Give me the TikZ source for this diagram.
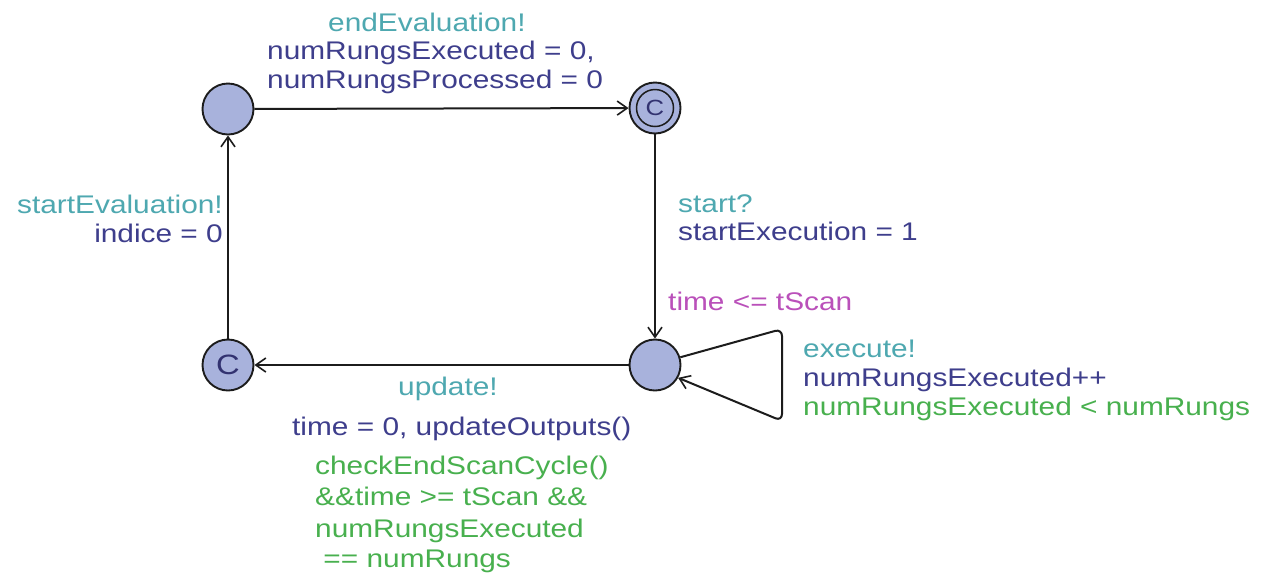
\documentclass[tikz,border=0pt]{standalone}
\usepackage{fontspec}
\setmainfont{Liberation Sans}[FakeStretch=1.17]
\usetikzlibrary{arrows.meta}
\definecolor{syncc}{RGB}{78,168,176}
\definecolor{assignc}{RGB}{62,62,140}
\definecolor{guardc}{RGB}{72,176,78}
\definecolor{invc}{RGB}{186,80,186}
\definecolor{locfill}{RGB}{168,178,220}
\definecolor{edgec}{RGB}{28,28,28}
\tikzset{
  loc/.style={circle, draw=edgec, line width=1.9pt, fill=locfill, minimum size=51pt, inner sep=0pt},
  edge/.style={draw=edgec, line width=2pt, -{Straight Barb[length=10pt,width=14pt,line width=1.6pt]}},
  lbl/.style={inner sep=0pt, anchor=base west, font=\fontsize{25.5}{30}\selectfont},
  lble/.style={lbl, anchor=base east},
  sync/.style={text=syncc},
  assign/.style={text=assignc},
  guard/.style={text=guardc},
  inv/.style={text=invc},
  cletter/.style={inner sep=0pt, text=assignc!80!black}
}
\begin{document}
\begin{tikzpicture}[x=1pt,y=-1pt]
\useasboundingbox[fill=white] (0,0) rectangle (1269,582);
% locations
\node[loc] (A) at (228,109) {};
\node[loc] (B) at (655,108) {};
\draw[edgec, line width=1.5pt] (B.center) circle (18.5pt);
\node[cletter, font=\fontsize{22}{22}\selectfont] (Bc) at (655,108) {C};
\node[loc, font=\fontsize{28}{28}\selectfont, text=assignc!80!black] (C) at (228,365) {C};
\node[loc] (D) at (655,365) {};
% connectors
\draw[edge] (A) -- (B);
\draw[edge] (B) -- (D);
\draw[edge] (D) -- (C);
\draw[edge] (C) -- (A);
\coordinate (L1) at (782,329);
\coordinate (L2) at (782,421);
\draw[edge, rounded corners=7pt] (D.17) -- (L1) -- (L2) -- (D.-29);
% labels top edge
\node[lbl, sync] (t1) at (328,31) {endEvaluation!};
\node[lbl, assign] (t2) at (267,59) {numRungsExecuted = 0,};
\node[lbl, assign] (t3) at (267,88) {numRungsProcessed = 0};
% left edge
\node[lble, sync] (l1) at (223,213) {startEvaluation!};
\node[lble, assign] (l2) at (223,242) {indice = 0};
% right edge
\node[lbl, sync] (r1) at (678,212) {start?};
\node[lbl, assign] (r2) at (678,240) {startExecution = 1};
% invariant
\node[lbl, inv] (iv) at (668,310) {time <= tScan};
% self loop
\node[lbl, sync] (s1) at (803,357) {execute!};
\node[lbl, assign] (s2) at (803,386) {numRungsExecuted++};
\node[lbl, guard] (s3) at (803,415) {numRungsExecuted < numRungs};
% bottom edge
\node[lbl, sync] (b1) at (398,395) {update!};
\node[lbl, assign] (b2) at (292,435) {time = 0, updateOutputs()};
\node[lbl, guard] (g1) at (315,474) {checkEndScanCycle()};
\node[lbl, guard] (g2) at (315,505) {\&\&time >= tScan \&\&};
\node[lbl, guard] (g3) at (315,537) {numRungsExecuted};
\node[lbl, guard] (g4) at (315,567) {\ == numRungs};
\end{tikzpicture}
\end{document}
